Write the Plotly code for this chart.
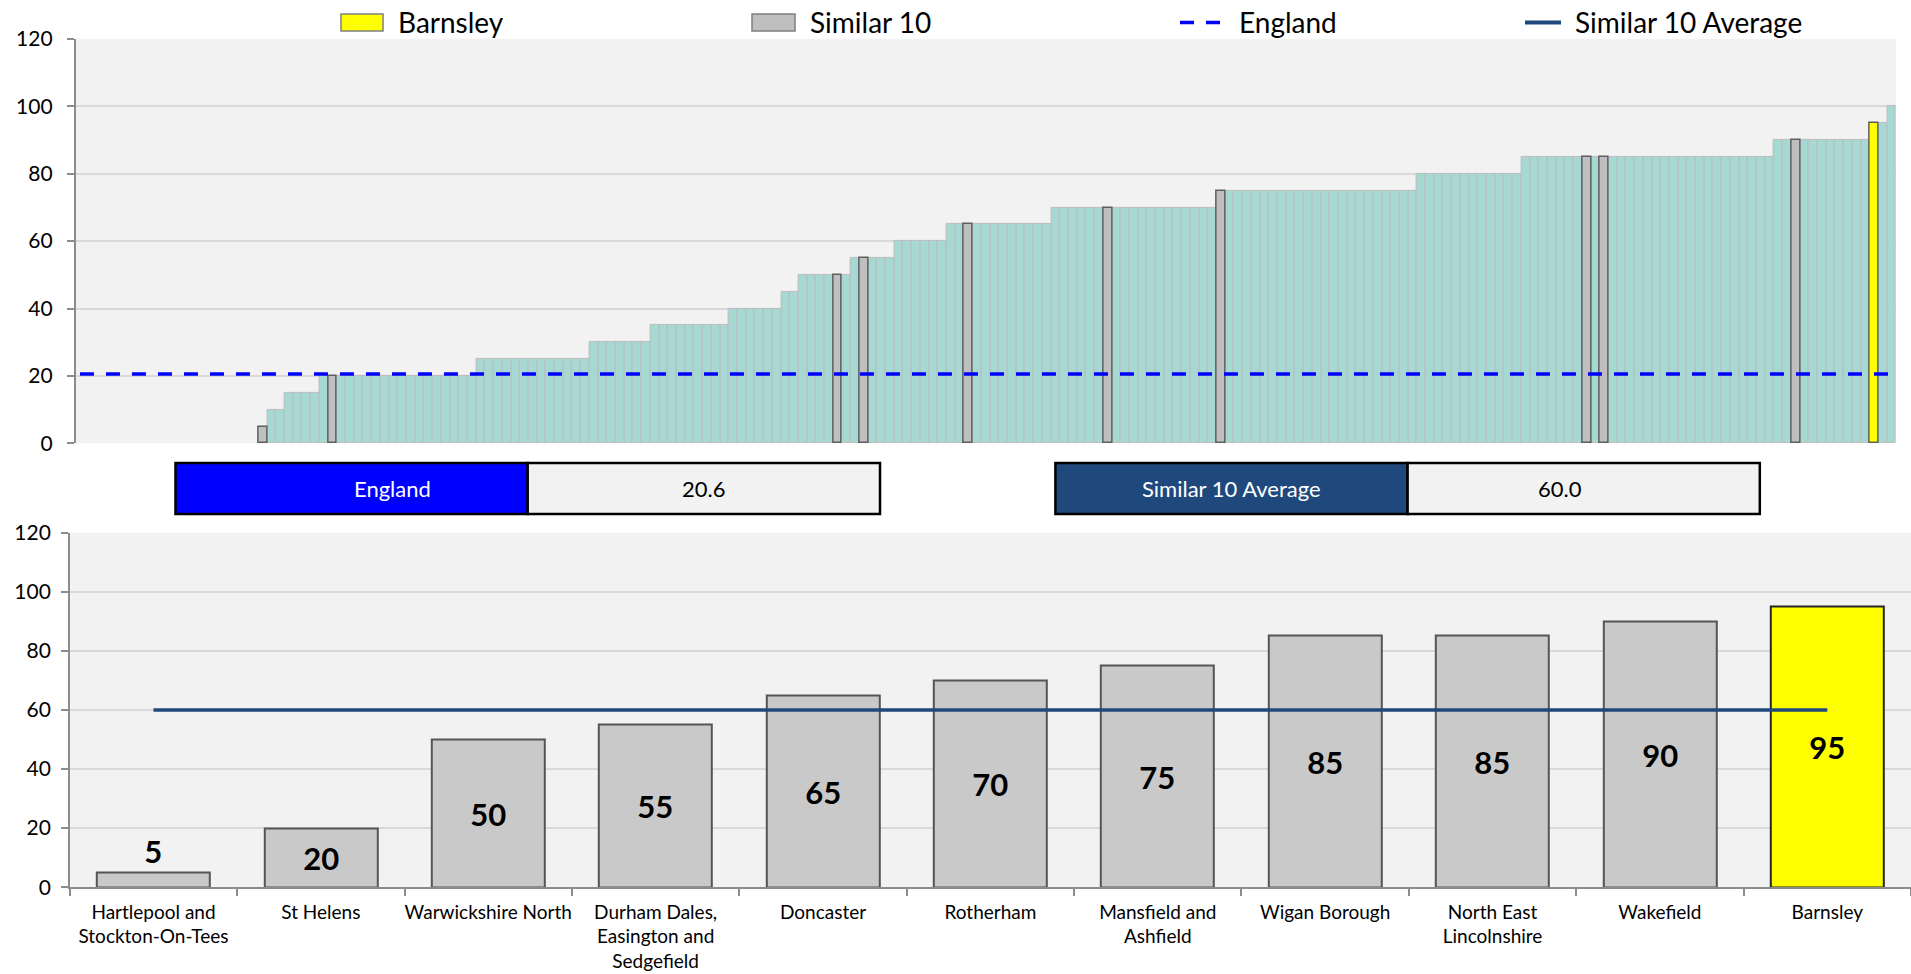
import plotly.graph_objects as go

W, H = 1911, 974
FONT = "Lato, 'Open Sans', 'DejaVu Sans', sans-serif"

# ---------------- data ----------------
# Top panel: all comparison areas, sorted ascending (None = no value)
area_values = [
    None, None, None, None, None, None, None,
    None, None, None, None, None, None, None,
    None, None, None, None, None, None, None,
    5, 10, 10, 15, 15, 15, 15,
    20, 20, 20, 20, 20, 20, 20, 20, 20,
    20, 20, 20, 20, 20, 20, 20, 20, 20,
    25, 25, 25, 25, 25, 25, 25, 25, 25, 25, 25, 25, 25,
    30, 30, 30, 30, 30, 30, 30,
    35, 35, 35, 35, 35, 35, 35, 35, 35,
    40, 40, 40, 40, 40, 40, 45, 45,
    50, 50, 50, 50, 50, 50, 55, 55, 55, 55, 55,
    60, 60, 60, 60, 60, 60,
    65, 65, 65, 65, 65, 65, 65, 65, 65, 65, 65, 65,
    70, 70, 70, 70, 70, 70, 70, 70, 70, 70,
    70, 70, 70, 70, 70, 70, 70, 70, 70,
    75, 75, 75, 75, 75, 75, 75, 75, 75, 75, 75, 75,
    75, 75, 75, 75, 75, 75, 75, 75, 75, 75, 75,
    80, 80, 80, 80, 80, 80, 80, 80, 80, 80, 80, 80,
    85, 85, 85, 85, 85, 85, 85, 85, 85, 85,
    85, 85, 85, 85, 85, 85, 85, 85, 85, 85,
    85, 85, 85, 85, 85, 85, 85, 85, 85,
    90, 90, 90, 90, 90, 90, 90, 90, 90, 90, 90,
    95, 95, 100,
]
# o = other area, s = one of the Similar 10, b = Barnsley
area_type = [
    "o", "o", "o", "o", "o", "o", "o",
    "o", "o", "o", "o", "o", "o", "o",
    "o", "o", "o", "o", "o", "o", "o",
    "s", "o", "o", "o", "o", "o", "o",
    "o", "s", "o", "o", "o", "o", "o", "o", "o",
    "o", "o", "o", "o", "o", "o", "o", "o", "o",
    "o", "o", "o", "o", "o", "o", "o", "o", "o", "o", "o", "o", "o",
    "o", "o", "o", "o", "o", "o", "o",
    "o", "o", "o", "o", "o", "o", "o", "o", "o",
    "o", "o", "o", "o", "o", "o", "o", "o",
    "o", "o", "o", "o", "s", "o", "o", "s", "o", "o", "o",
    "o", "o", "o", "o", "o", "o",
    "o", "o", "s", "o", "o", "o", "o", "o", "o", "o", "o", "o",
    "o", "o", "o", "o", "o", "o", "s", "o", "o", "o",
    "o", "o", "o", "o", "o", "o", "o", "o", "o",
    "s", "o", "o", "o", "o", "o", "o", "o", "o", "o", "o", "o",
    "o", "o", "o", "o", "o", "o", "o", "o", "o", "o", "o",
    "o", "o", "o", "o", "o", "o", "o", "o", "o", "o", "o", "o",
    "o", "o", "o", "o", "o", "o", "o", "s", "o", "s",
    "o", "o", "o", "o", "o", "o", "o", "o", "o", "o",
    "o", "o", "o", "o", "o", "o", "o", "o", "o",
    "o", "o", "s", "o", "o", "o", "o", "o", "o", "o", "o",
    "b", "o", "o",
]
assert len(area_values) == len(area_type)

england_value = 20.6
similar_avg_value = 60.0

# Bottom panel: Similar 10 + Barnsley
similar_names = [
    "Hartlepool and<br>Stockton-On-Tees", "St Helens", "Warwickshire North",
    "Durham Dales,<br>Easington and<br>Sedgefield", "Doncaster", "Rotherham",
    "Mansfield and<br>Ashfield", "Wigan Borough", "North East<br>Lincolnshire",
    "Wakefield", "Barnsley",
]
similar_values = [5, 20, 50, 55, 65, 70, 75, 85, 85, 90, 95]
similar_type = ["s", "s", "s", "s", "s", "s", "s", "s", "s", "s", "b"]

legend_labels = ["Barnsley", "Similar 10", "England", "Similar 10 Average"]
box_labels = ["England", "Similar 10 Average"]
box_values = [england_value, similar_avg_value]

# ---------------- styles ----------------
TEAL, TEAL_LINE = "#A6D9D3", "#BDBDBD"
GREY, GREY_LINE = "#BFBFBF", "#5F5F5F"
BGREY, BGREY_LINE = "#C9C9C9", "#555555"
YELLOW = "#FFFF00"
BLUE = "#0000FF"
NAVY = "#1F497D"
GRID = "#D9D9D9"
AXIS = "#8C8C8C"


def px(x):
    return x / W


def py(y):
    return 1 - y / H


n = len(area_values)
idx = list(range(n))

fig = go.Figure()

# top panel bars
for code, fill, line, lw in [("o", TEAL, TEAL_LINE, 1), ("s", GREY, GREY_LINE, 1.5),
                             ("b", YELLOW, GREY_LINE, 1.5)]:
    fig.add_trace(go.Bar(
        x=idx,
        y=[v if t == code else None for v, t in zip(area_values, area_type)],
        width=1,
        marker=dict(color=fill, line=dict(color=line, width=lw)),
        xaxis="x", yaxis="y", showlegend=False, hoverinfo="y",
    ))

fig.add_trace(go.Scatter(
    x=idx, y=[england_value] * n, mode="lines",
    line=dict(color=BLUE, width=3.5, dash="14px,12px"),
    xaxis="x", yaxis="y", showlegend=False, hoverinfo="skip",
))

# bottom panel
fig.add_trace(go.Bar(
    x=similar_names, y=similar_values, width=0.675,
    marker=dict(
        color=[YELLOW if t == "b" else BGREY for t in similar_type],
        line=dict(color=["#262626" if t == "b" else BGREY_LINE for t in similar_type], width=2),
    ),
    text=similar_values, texttemplate="<b>%{text}</b>",
    textposition="auto", insidetextanchor="middle", textangle=0,
    constraintext="none", cliponaxis=False,
    textfont=dict(family=FONT, size=31, color="black"),
    insidetextfont=dict(family=FONT, size=31, color="black"),
    outsidetextfont=dict(family=FONT, size=31, color="black"),
    xaxis="x2", yaxis="y2", showlegend=False,
))
fig.add_trace(go.Scatter(
    x=similar_names, y=[similar_avg_value] * len(similar_names), mode="lines",
    line=dict(color=NAVY, width=3.5),
    xaxis="x2", yaxis="y2", showlegend=False, hoverinfo="skip",
))

shapes = []
annots = []

# middle summary boxes
box_x = [(175.5, 527.7, 880.0), (1055.4, 1407.6, 1759.8)]
box_fill = [BLUE, NAVY]
for (x0, x1, x2), lab, val, fill in zip(box_x, box_labels, box_values, box_fill):
    shapes.append(dict(type="rect", xref="paper", yref="paper", x0=px(x0), x1=px(x1),
                       y0=py(514), y1=py(463), fillcolor=fill, line=dict(color="black", width=2.5)))
    shapes.append(dict(type="rect", xref="paper", yref="paper", x0=px(x1), x1=px(x2),
                       y0=py(514), y1=py(463), fillcolor="#F2F2F2", line=dict(color="black", width=2.5)))
    annots.append(dict(xref="paper", yref="paper", x=px((x0 + x1) / 2), y=py(488.5), text=lab,
                       showarrow=False, font=dict(family=FONT, size=22, color="white")))
    annots.append(dict(xref="paper", yref="paper", x=px((x1 + x2) / 2), y=py(488.5), text=f"{val:.1f}",
                       showarrow=False, font=dict(family=FONT, size=22, color="black")))

# legend (drawn manually to match layout)
LY = 22.5
shapes.append(dict(type="rect", xref="paper", yref="paper", x0=px(341), x1=px(383),
                   y0=py(LY + 8.5), y1=py(LY - 8.5), fillcolor=YELLOW, line=dict(color="#7F7F7F", width=1.5)))
shapes.append(dict(type="rect", xref="paper", yref="paper", x0=px(752), x1=px(795),
                   y0=py(LY + 8.5), y1=py(LY - 8.5), fillcolor=GREY, line=dict(color="#7F7F7F", width=1.5)))
shapes.append(dict(type="line", xref="paper", yref="paper", x0=px(1180), x1=px(1222),
                   y0=py(LY), y1=py(LY), line=dict(color=BLUE, width=3.5, dash="14px,12px")))
shapes.append(dict(type="line", xref="paper", yref="paper", x0=px(1525), x1=px(1561),
                   y0=py(LY), y1=py(LY), line=dict(color=NAVY, width=4)))
for xl, lab in zip([396, 808, 1237, 1573], legend_labels):
    annots.append(dict(xref="paper", yref="paper", x=px(xl), y=py(LY), xanchor="left", yanchor="middle",
                       text=lab, showarrow=False, font=dict(family=FONT, size=28, color="black")))

tickfont = dict(family=FONT, size=21, color="black")

fig.update_layout(
    width=W, height=H, autosize=False,
    margin=dict(l=0, r=0, t=0, b=0, autoexpand=False),
    paper_bgcolor="white", plot_bgcolor="#F2F2F2",
    barmode="overlay", bargap=0,
    font=dict(family=FONT, color="black"),
    shapes=shapes, annotations=annots,
    xaxis=dict(domain=[px(75.6), px(1896)], range=[-0.5, n - 0.5], anchor="y", automargin=False,
               showticklabels=False, showgrid=False, zeroline=False, showline=False, ticks=""),
    yaxis=dict(domain=[py(443.3), py(38.9)], range=[0, 120], dtick=20, anchor="x", automargin=False,
               showgrid=True, gridcolor=GRID, gridwidth=1.5, zeroline=False,
               showline=True, linecolor=AXIS, linewidth=1.5,
               ticks="outside", ticklen=7, tickcolor=AXIS, tickwidth=1.5,
               tickfont=tickfont, ticklabelstandoff=10),
    xaxis2=dict(domain=[px(69.8), 1.0], range=[-0.5, len(similar_names) - 0.5], anchor="y2",
                type="category", showgrid=False, zeroline=False, automargin=False, tickangle=0,
                showline=True, linecolor=AXIS, linewidth=1.5,
                ticks="outside", tickson="boundaries", ticklen=7, tickcolor=AXIS, tickwidth=1.5,
                tickfont=dict(family=FONT, size=19, color="black"), ticklabelstandoff=7),
    yaxis2=dict(domain=[py(887.2), py(532.6)], range=[0, 120], dtick=20, anchor="x2", automargin=False,
                showgrid=True, gridcolor=GRID, gridwidth=1.5, zeroline=False,
                showline=True, linecolor=AXIS, linewidth=1.5,
                ticks="outside", ticklen=7, tickcolor=AXIS, tickwidth=1.5,
                tickfont=tickfont, ticklabelstandoff=6),
)

fig.write_html("out.html", config={"displayModeBar": False},
               post_script="document.body.style.margin='0';document.body.style.overflow='hidden';")
